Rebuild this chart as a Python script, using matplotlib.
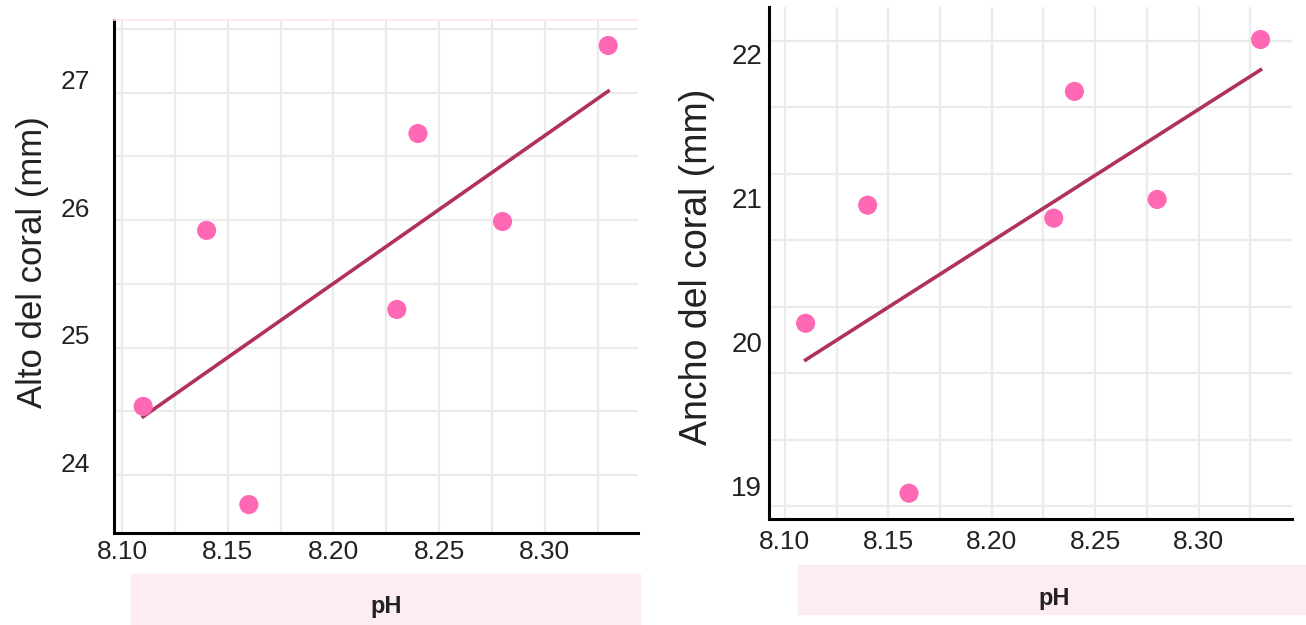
import numpy as np
import matplotlib
matplotlib.use("Agg")
import matplotlib.pyplot as plt
from matplotlib.patches import Rectangle

plt.rcParams['font.family'] = ['Liberation Sans', 'DejaVu Sans']

# data
ph = [8.11, 8.14, 8.16, 8.23, 8.24, 8.28, 8.33]
alto = [24.44, 25.82, 23.67, 25.20, 26.58, 25.89, 27.27]
ancho = [20.13, 20.95, 18.95, 20.86, 21.74, 20.99, 22.10]

x_ticks = [8.10, 8.15, 8.20, 8.25, 8.30]
x_labels = ['8.10', '8.15', '8.20', '8.25', '8.30']
alto_ticks = [24, 25, 26, 27]
ancho_ticks = [19, 20, 21, 22]

PUNTO = '#ff69b4'
LINEA = '#b03060'
GRID = '#ebebeb'
TXT = '#222222'
BANDA = '#fdecf1'

fig = plt.figure(figsize=(13.06, 6.25), dpi=100)
W, H = 1306, 625


def box(x0, y0, x1, y1):
    # pixel box (top-left origin) -> figure fraction rect
    return [x0 / W, 1 - y1 / H, (x1 - x0) / W, (y1 - y0) / H]


def panel(ax, y, yticks, ygrid, xlim, ylim, ypad, xpad, ysize):
    ax.set_xlim(*xlim)
    ax.set_ylim(*ylim)
    ax.set_xticks(x_ticks)
    ax.set_xticklabels(x_labels)
    ax.set_xticks(np.arange(8.10, 8.33, 0.025), minor=True)
    ax.set_yticks(yticks)
    ax.set_yticks(ygrid, minor=True)
    ax.xaxis.grid(True, which='both', color=GRID, lw=1.6)
    ax.yaxis.grid(True, which='minor', color=GRID, lw=1.6)
    ax.yaxis.grid(False, which='major')
    ax.set_axisbelow(True)
    ax.tick_params(which='both', length=0)
    ax.tick_params(axis='y', pad=ypad, labelsize=ysize, labelcolor=TXT)
    ax.tick_params(axis='x', pad=xpad, labelsize=19, labelcolor=TXT)
    for s in ['right', 'top']:
        ax.spines[s].set_visible(False)
    for s in ['left', 'bottom']:
        ax.spines[s].set_linewidth(2.2)
        ax.spines[s].set_color('black')

    coef = np.polyfit(ph, y, 1)
    xs = np.array([min(ph), max(ph)])
    ax.plot(xs, np.polyval(coef, xs), color=LINEA, lw=2.6, zorder=3)
    ax.scatter(ph, y, s=190, color=PUNTO, edgecolors='none', zorder=4)


# left panel
ax1 = fig.add_axes(box(114, 20, 638, 533))
panel(ax1, alto, alto_ticks, np.arange(23.9, 27.5, 0.5),
      (8.0962, 8.3441), (23.447, 27.47), 17, 5, 19)
ax1.spines['top'].set_visible(True)
ax1.spines['top'].set_color('#fde4ec')
ax1.spines['top'].set_linewidth(1.2)

# right panel
ax2 = fig.add_axes(box(769, 7, 1292, 519))
panel(ax2, ancho, ancho_ticks, np.linspace(18.86, 22.09, 8),
      (8.0923, 8.3452), (18.771, 22.326), 5, 8, 20)

# axis titles
fig.text(33 / W, 1 - 262 / H, 'Alto del coral (mm)', rotation=90,
         ha='center', va='center', fontsize=25, color=TXT)
fig.text(697 / W, 1 - 267 / H, 'Ancho del coral (mm)', rotation=90,
         ha='center', va='center', fontsize=27, color=TXT)

# pink x-title bands
fig.patches.append(Rectangle((131 / W, 0), (640 - 131) / W, (625 - 574) / H,
                             transform=fig.transFigure, color=BANDA, zorder=0))
fig.patches.append(Rectangle((798 / W, 1 - 614 / H), (1306 - 798) / W, (614 - 565) / H,
                             transform=fig.transFigure, color=BANDA, zorder=0))
fig.text(386 / W, 1 - 607 / H, 'pH', ha='center', va='center',
         fontsize=17, fontweight='bold', color=TXT)
fig.text(1054 / W, 1 - 598 / H, 'pH', ha='center', va='center',
         fontsize=17, fontweight='bold', color=TXT)

fig.savefig('out.png', dpi=100)
